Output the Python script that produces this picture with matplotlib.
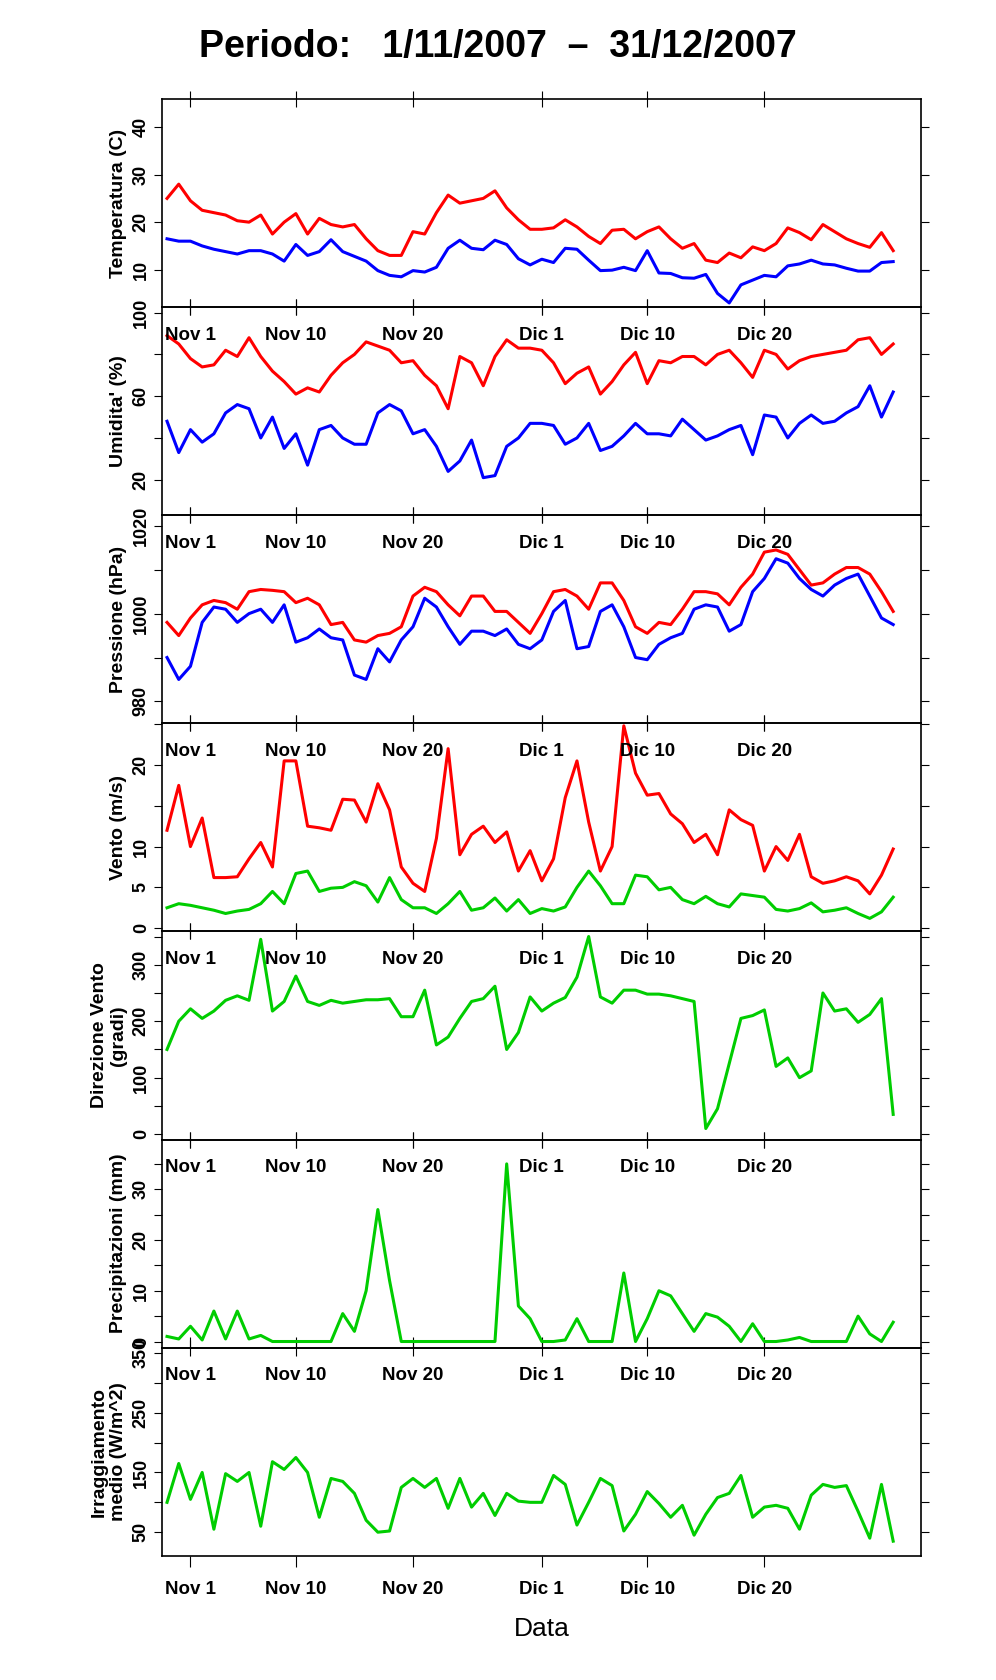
import numpy as np
import matplotlib
matplotlib.use("Agg")
import matplotlib.pyplot as plt

plt.rcParams['font.family'] = ['Liberation Sans Narrow', 'Liberation Sans', 'DejaVu Sans']

# days relative to 1 Nov 2007 (0 = Nov 1)
days = np.arange(-2, 61)

temp_max = [25, 28, 24.5, 22.5, 22, 21.5, 20.3, 20, 21.5, 17.5, 20, 21.8, 17.5, 20.8, 19.5, 19,
            19.5, 16.5, 14, 13, 13, 18, 17.5, 22, 25.7, 24, 24.5, 25, 26.6, 23, 20.5, 18.5, 18.5,
            18.8, 20.5, 19, 17, 15.5, 18.3, 18.5, 16.5, 18, 19, 16.5, 14.5, 15.5, 12, 11.5, 13.5,
            12.5, 14.8, 14, 15.5, 18.8, 17.8, 16.3, 19.5, 18, 16.5, 15.5, 14.7, 17.8, 14]
temp_min = [16.5, 16, 16, 15, 14.3, 13.8, 13.3, 14, 14, 13.3, 11.8, 15.3, 13, 13.8, 16.3, 13.8,
            12.8, 11.8, 9.8, 8.8, 8.5, 9.8, 9.5, 10.5, 14.5, 16.2, 14.5, 14.2, 16.2, 15.3, 12.3,
            11, 12.2, 11.5, 14.5, 14.3, 12, 9.8, 9.9, 10.5, 9.8, 14, 9.3, 9.2, 8.3, 8.2, 9, 5, 3,
            6.8, 7.8, 8.8, 8.5, 10.8, 11.2, 12, 11.2, 11, 10.3, 9.7, 9.7, 11.5, 11.7]
hum_max = [89, 85, 78, 74, 75, 82, 79, 88, 79, 72, 67, 61, 64, 62, 70, 76, 80, 86, 84, 82, 76,
           77, 70, 65, 54, 79, 76, 65, 79, 87, 83, 83, 82, 76, 66, 71, 74, 61, 67, 75, 81, 66,
           77, 76, 79, 79, 75, 80, 82, 76, 69, 82, 80, 73, 77, 79, 80, 81, 82, 87, 88, 80, 85]
hum_min = [48, 33, 44, 38, 42, 52, 56, 54, 40, 50, 35, 42, 27, 44, 46, 40, 37, 37, 52, 56, 53,
           42, 44, 36, 24, 29, 39, 21, 22, 36, 40, 47, 47, 46, 37, 40, 47, 34, 36, 41, 47, 42,
           42, 41, 49, 44, 39, 41, 44, 46, 32, 51, 50, 40, 47, 51, 47, 48, 52, 55, 65, 50, 62]
pres_max = [998, 995, 999, 1002, 1003, 1002.5, 1001, 1005, 1005.5, 1005.3, 1005, 1002.5, 1003.5,
            1002, 997.5, 998, 994, 993.5, 995, 995.5, 997, 1004, 1006, 1005, 1002, 999.5, 1004,
            1004, 1000.5, 1000.5, 998, 995.5, 1000, 1005, 1005.5, 1004, 1001, 1007, 1007, 1003,
            997, 995.5, 998, 997.5, 1001, 1005, 1005, 1004.5, 1002, 1006, 1009, 1014, 1014.5,
            1013.5, 1010, 1006.5, 1007, 1009, 1010.5, 1010.5, 1009, 1005, 1000.5]
pres_min = [990, 985, 988, 998, 1001.5, 1001, 998, 1000, 1001, 998, 1002, 993.5, 994.5, 996.5,
            994.5, 994, 986, 985, 992, 989, 994, 997, 1003.5, 1001.5, 997, 993, 996, 996, 995,
            996.5, 993, 992, 994, 1000.5, 1003, 992, 992.5, 1000.5, 1002, 997, 990, 989.5, 993,
            994.5, 995.5, 1001, 1002, 1001.5, 996, 997.5, 1005, 1008, 1012.5, 1011.5, 1008,
            1005.5, 1004, 1006.5, 1008, 1009, 1004, 999, 997.5]
wind_max = [12, 17.5, 10, 13.5, 6.2, 6.2, 6.3, 8.5, 10.5, 7.5, 20.5, 20.5, 12.5, 12.3, 12, 15.8,
            15.7, 13, 17.7, 14.5, 7.5, 5.5, 4.5, 11, 22, 9, 11.5, 12.5, 10.5, 11.8, 7, 9.5, 5.8,
            8.5, 16, 20.5, 13, 7, 10, 24.8, 19, 16.3, 16.5, 14, 12.8, 10.5, 11.5, 9, 14.5, 13.3,
            12.6, 7, 10, 8.3, 11.5, 6.3, 5.5, 5.8, 6.3, 5.8, 4.2, 6.5, 9.7]
wind_mean = [2.5, 3, 2.8, 2.5, 2.2, 1.8, 2.1, 2.3, 3, 4.5, 3, 6.7, 7, 4.5, 4.9, 5, 5.7, 5.2, 3.2,
             6.2, 3.5, 2.5, 2.5, 1.8, 3, 4.5, 2.2, 2.5, 3.7, 2.1, 3.5, 1.8, 2.4, 2.1, 2.6, 5, 7,
             5.2, 3, 3, 6.5, 6.3, 4.7, 5, 3.5, 3, 3.9, 3, 2.6, 4.2, 4, 3.8, 2.3, 2.1, 2.4, 3.1, 2,
             2.2, 2.5, 1.8, 1.2, 2, 3.8]
wind_dir = [150, 200, 222, 205, 218, 237, 245, 237, 345, 218, 235, 280, 235, 228, 237, 232, 235,
            238, 238, 240, 208, 208, 255, 158, 172, 205, 235, 240, 262, 150, 180, 243, 218, 232,
            242, 278, 350, 243, 232, 255, 255, 248, 248, 245, 240, 235, 10, 45, 125, 205, 210,
            220, 120, 135, 100, 112, 250, 218, 222, 198, 212, 240, 35]
rain = [1, 0.5, 3, 0.3, 6, 0.5, 6, 0.5, 1.2, 0, 0, 0, 0, 0, 0, 5.5, 2, 10, 26, 12,
        0, 0, 0, 0, 0, 0, 0, 0, 0, 35, 7, 4.5, 0, 0, 0.3, 4.5, 0, 0, 0, 13.5,
        0, 4.5, 10, 9, 5.5, 2, 5.5, 4.8, 3, 0, 3.5, 0, 0, 0.3, 0.8, 0, 0, 0, 0, 5, 1.5, 0, 3.8]
irr = [100, 165, 105, 150, 55, 148, 135, 150, 60, 168, 155, 175, 150, 75, 140, 135, 115, 70, 50,
       52, 125, 140, 125, 140, 90, 140, 92, 115, 78, 115, 102, 100, 100, 145, 130, 62, 100, 140,
       128, 52, 80, 118, 98, 75, 95, 45, 80, 108, 115, 145, 75, 92, 95, 90, 55, 112, 130, 125,
       128, 85, 40, 130, 35]

date_pos = [0, 9, 19, 30, 39, 49]
date_labels = ["Nov 1", "Nov 10", "Nov 20", "Dic 1", "Dic 10", "Dic 20"]

RED, BLUE, GREEN = "#ff0000", "#0000ff", "#00cd00"

panels = [
    ("Temperatura (C)", [(temp_max, RED), (temp_min, BLUE)], (2.1, 45.9),
     [10, 20, 30, 40], [10, 20, 30, 40]),
    ("Umidita' (%)", [(hum_max, RED), (hum_min, BLUE)], (3, 102.6),
     np.arange(20, 101, 20), [20, 60, 100]),
    ("Pressione (hPa)", [(pres_max, RED), (pres_min, BLUE)], (975, 1022.4),
     np.arange(980, 1021, 10), [980, 1000, 1020]),
    ("Vento (m/s)", [(wind_max, RED), (wind_mean, GREEN)], (-0.4, 25.1),
     np.arange(0, 26, 5), [0, 5, 10, 20]),
    ("Direzione Vento\n(gradi)", [(wind_dir, GREEN)], (-9.5, 359),
     np.arange(0, 351, 50), [0, 100, 200, 300]),
    ("Precipitazioni (mm)", [(rain, GREEN)], (-1.2, 39.8),
     np.arange(0, 36, 5), [0, 10, 20, 30]),
    ("Irraggiamento\nmedio (W/m^2)", [(irr, GREEN)], (10.7, 359),
     np.arange(50, 351, 50), [50, 150, 250, 350]),
]

fig, axes = plt.subplots(len(panels), 1, figsize=(9.96, 16.8), dpi=100, sharex=True)
fig.subplots_adjust(left=0.163, right=0.925, top=0.941, bottom=0.074, hspace=0)

for i, (ax, (label, series, ylim, yticks, ylabs)) in enumerate(zip(axes, panels)):
    ax.set_zorder(len(panels) - i)
    ax.patch.set_visible(False)
    for vals, col in series:
        ax.plot(days, vals, color=col, lw=2.2)
    ax.set_xlim(-2.4, 62.4)
    ax.set_ylim(*ylim)
    ax.set_yticks(yticks)
    ax.set_yticklabels([str(t) if t in ylabs else "" for t in yticks],
                       rotation=90, va="center", fontsize=13, fontweight="bold")
    ax.tick_params(axis="y", which="both", direction="out", length=6, right=True, pad=3)
    ax.set_ylabel(label, fontsize=14, fontweight="bold", labelpad=4)
    ax.set_xticks(date_pos)
    ax.set_xticklabels(date_labels, fontsize=13.5, fontweight="bold")
    ax.tick_params(axis="x", top=True, direction="inout", length=12, pad=8)
    for sp in ax.spines.values():
        sp.set_linewidth(1.2)

axes[-1].tick_params(axis="x", direction="out", length=8, pad=10)
axes[-1].set_xlabel("Data", fontsize=19, labelpad=14)
for ax in axes[:-1]:
    ax.tick_params(axis="x", labelbottom=True)

fig.suptitle("Periodo:   1/11/2007  \u2013  31/12/2007", fontsize=27, fontweight="bold",
             y=0.972, va="center", family=["Liberation Sans", "DejaVu Sans"])

fig.savefig("out.png", dpi=100)
